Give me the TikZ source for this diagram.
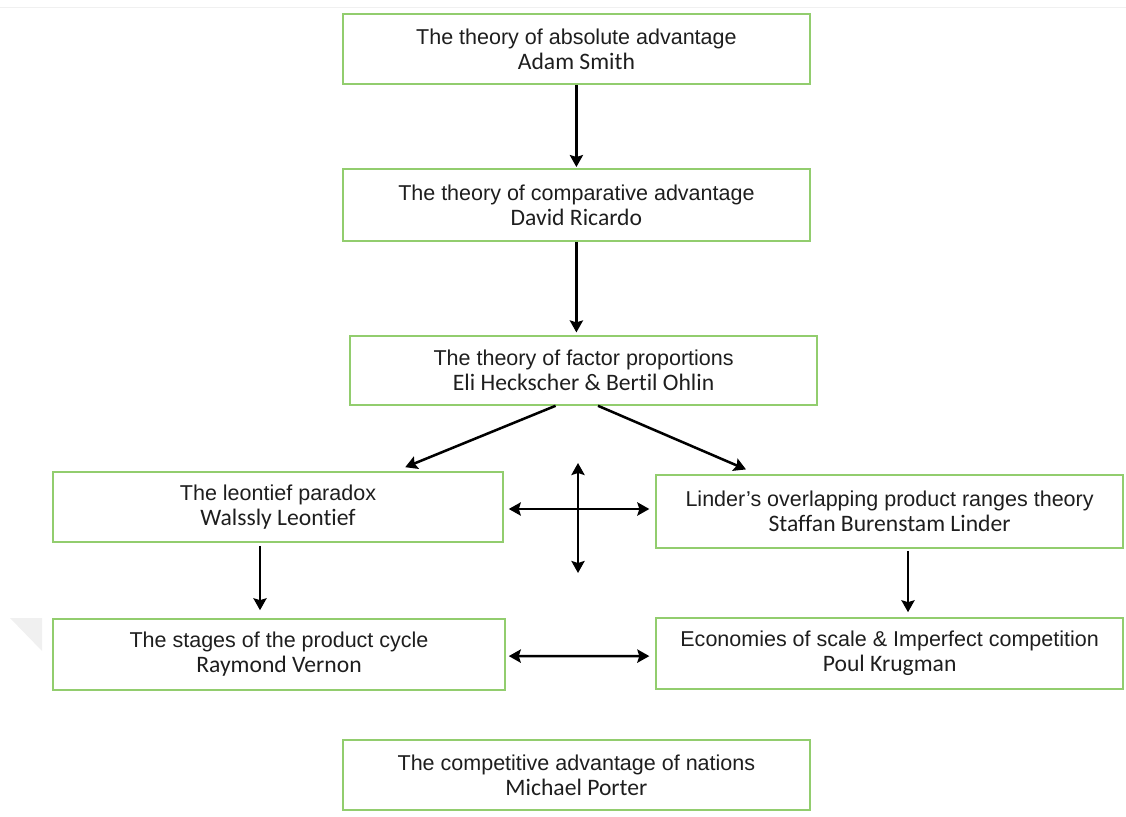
\documentclass[tikz,border=0pt]{standalone}
\usepackage{fontspec}
\setmainfont{Liberation Sans}
\newfontfamily\authorfont[Ligatures=NoCommon]{Carlito}
\usetikzlibrary{arrows.meta}
\definecolor{cFrame}{RGB}{146,205,110}
\definecolor{cText}{RGB}{30,30,30}
\newcommand{\thry}[2]{#1\\{\authorfont\fontsize{16.8}{18}\selectfont #2}}
\tikzset{
	theory/.style ={rectangle, draw=cFrame, line width=1.1pt, minimum width=11.675cm, minimum height=1.75cm, align=center, text=cText, inner sep=0pt, font=\fontsize{15.3}{17.8}\selectfont},
	link/.style   ={-{Stealth[length=3mm, width=3.3mm, inset=0.5mm]}, line width=1.8pt},
	twoway/.style ={{Stealth[length=3mm, width=3.3mm, inset=0.5mm]}-{Stealth[length=3mm, width=3.3mm, inset=0.5mm]}, line width=1.8pt},
}
\begin{document}
\begin{tikzpicture}
	\useasboundingbox (0,0) rectangle (28.15,20.4);
	\draw[gray!12, line width=0.6pt] (0,20.225) -- (28.15,20.225);
	\fill[gray!12] (0.25,4.95) -- (1.05,4.95) -- (1.05,4.125) -- cycle;
	\node[theory] (abs) at (14.41,19.175) {\thry{The theory of absolute advantage}{Adam Smith}};
	\node[theory, minimum height=1.8cm] (cmp) at (14.41,15.275) {\thry{The theory of comparative advantage}{David Ricardo}};
	\node[theory, minimum height=1.725cm] (fac) at (14.59,11.1375) {\thry{The theory of factor proportions}{Eli Heckscher \& Bertil Ohlin}};
	\node[theory, minimum width=11.25cm] (leo) at (6.95,7.725) {\thry{The leontief paradox}{Walssly Leontief}};
	\node[theory, minimum height=1.825cm] (lin) at (22.24,7.6125) {\thry{Linder's overlapping product ranges theory}{Staffan Burenstam Linder}};
	\node[theory, minimum width=11.3cm, minimum height=1.775cm] (stg) at (6.975,4.0375) {\thry{The stages of the product cycle}{Raymond Vernon}};
	\node[theory, minimum height=1.775cm] (eco) at (22.24,4.0625) {\thry{Economies of scale \& Imperfect competition}{Poul Krugman}};
	\node[theory] (por) at (14.41,1.025) {\thry{The competitive advantage of nations}{Michael Porter}};
	\coordinate (up) at (14.45,8.825);
	\coordinate (down) at (14.45,6.075);
	\coordinate (mid) at (14.45,7.675);
	\draw[link] (abs) -- ([yshift=0.03cm]cmp.north);
	\draw[link] (cmp.south) -- ([xshift=-0.18cm,yshift=0.07cm]fac.north);
	\draw[link] ([xshift=-0.7cm]fac.south) -- ([xshift=3.18cm,yshift=0.1cm]leo.north);
	\draw[link] ([xshift=0.36cm]fac.south) -- ([xshift=-3.59cm,yshift=0.12cm]lin.north);
	\draw[twoway] (up) -- (down);
	\draw[twoway] ([xshift=0.125cm]leo.east |- mid) -- ([xshift=-0.15cm]lin.west |- mid);
	\draw[link] ([xshift=-0.45cm,yshift=-0.075cm]leo.south) -- ([xshift=-0.475cm,yshift=0.2cm]stg.north);
	\draw[link] ([xshift=0.46cm,yshift=-0.05cm]lin.south) -- ([xshift=0.46cm,yshift=0.125cm]eco.north);
	\draw[twoway] ([xshift=0.075cm,yshift=-0.04cm]stg.east) -- ([xshift=-0.15cm,yshift=-0.065cm]eco.west);
\end{tikzpicture}
\end{document}
